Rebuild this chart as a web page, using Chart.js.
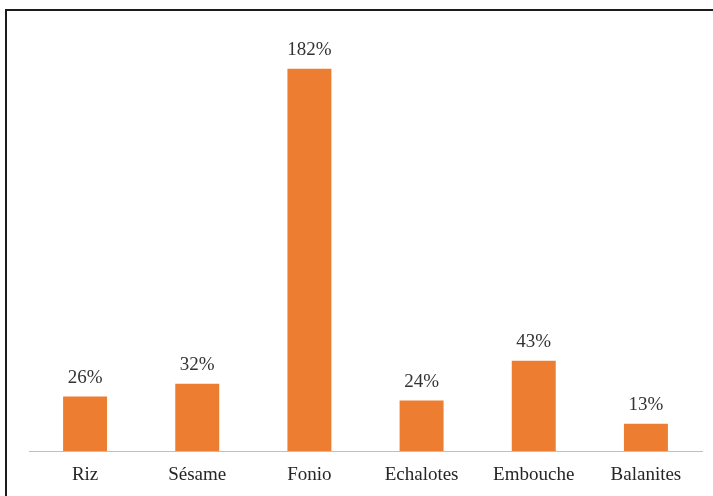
<!DOCTYPE html>
<html>
<head>
<meta charset="utf-8">
<script src="https://cdn.jsdelivr.net/npm/chart.js@4/dist/chart.umd.min.js"></script>
<style>
  html, body { margin: 0; padding: 0; background: #fff; overflow: hidden; }
  #wrap { position: relative; width: 713px; height: 496px; }
  #frame { position: absolute; left: 5px; top: 9px; width: 760px; height: 560px;
           border: 2px solid #1c1c1c; box-sizing: border-box; pointer-events: none; }
  canvas { position: absolute; left: 0; top: 0; }
</style>
</head>
<body>
<div id="wrap">
  <canvas id="c" width="713" height="496"></canvas>
  <div id="frame"></div>
</div>
<script>
const categories = ['Riz', 'Sésame', 'Fonio', 'Echalotes', 'Embouche', 'Balanites'];
const values = [26, 32, 182, 24, 43, 13];
const yMin = 0;
const yMax = 200;

const serif = '"Liberation Serif", "DejaVu Serif", serif';

// Writes the percentage above each bar
const valueLabels = {
  id: 'valueLabels',
  afterDatasetsDraw(chart) {
    const ctx = chart.ctx;
    const meta = chart.getDatasetMeta(0);
    ctx.save();
    ctx.font = '19px ' + serif;
    ctx.fillStyle = '#333333';
    ctx.textAlign = 'center';
    ctx.textBaseline = 'alphabetic';
    meta.data.forEach((bar, i) => {
      ctx.fillText(values[i] + '%', bar.x, bar.y - 13.5);
    });
    ctx.restore();
  }
};

new Chart(document.getElementById('c'), {
  type: 'bar',
  data: {
    labels: categories,
    datasets: [{
      data: values,
      backgroundColor: '#ED7D31',
      borderWidth: 0,
      categoryPercentage: 1,
      barPercentage: 0.392
    }]
  },
  options: {
    responsive: false,
    animation: false,
    layout: { padding: { left: 29, right: 11, top: 31, bottom: 0 } },
    plugins: { legend: { display: false }, tooltip: { enabled: false } },
    scales: {
      x: {
        grid: { display: false, drawTicks: false },
        border: { display: true, color: '#BFBFBF', width: 1 },
        ticks: { color: '#262626', font: { family: serif, size: 19 }, padding: 13, maxRotation: 0 },
        afterFit(scale) { scale.height = 45; }
      },
      y: {
        display: false,
        min: yMin,
        max: yMax
      }
    }
  },
  plugins: [valueLabels]
});
</script>
</body>
</html>
